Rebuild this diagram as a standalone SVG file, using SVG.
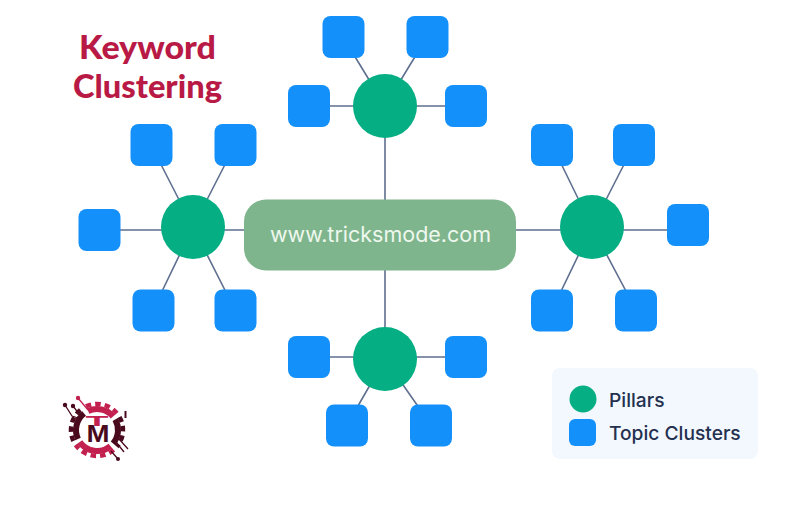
<svg xmlns="http://www.w3.org/2000/svg" width="785" height="518" viewBox="0 0 785 518">
<style>
.c{fill:#05ae83}
.s{fill:#1490fb}
.l{stroke:#5f6f8f;stroke-width:1.6;fill:none}
.title{font-family:"Lato","Liberation Sans",sans-serif;font-weight:900;font-size:31.5px;fill:#b81a45}
.leg{font-family:"Inter","Liberation Sans",sans-serif;font-size:19.200px;font-weight:500;fill:#24304f}
.cen{font-family:"Inter","Noto Sans",sans-serif;font-size:21px;fill:#eef8ee}
.lm{font-family:"Liberation Sans",sans-serif;font-weight:700}
.dk{stroke:#4a0a1e;fill:none}
.cr{stroke:#c2214f;fill:none}
</style>
<defs>
<rect id="sq" width="42" height="42" rx="8" class="s"/>
</defs>
<rect width="785" height="518" fill="#fff"/>
<g id="connectors" class="l">
<path d="M385 106V235M385 235V359M193 230H592"/>
<path d="M343 37L385 106M427 37L385 106M309 106H466"/>
<path d="M151 145L193 227M235 145L193 227M99 230H193M153 310L193 227M235 310L193 227"/>
<path d="M552 145L592 227M634 145L592 227M592 230H688M552 310L592 227M636 310L592 227"/>
<path d="M309 357H466M347 425L385 359M431 425L385 359"/>
</g>
<g id="center"><rect x="244" y="199.500" width="272" height="71" rx="22" fill="#7fb58c"/><text x="270" y="241.500" textLength="221" lengthAdjust="spacingAndGlyphs" class="cen">www.tricksmode.com</text></g>
<g id="pillar-top"><circle cx="385" cy="106" r="32" class="c"/></g>
<g id="pillar-left"><circle cx="193" cy="227" r="32" class="c"/></g>
<g id="pillar-right"><circle cx="592" cy="227" r="32" class="c"/></g>
<g id="pillar-bottom"><circle cx="385" cy="359" r="32" class="c"/></g>
<g id="t1"><use href="#sq" x="322.500" y="16"/></g>
<g id="t2"><use href="#sq" x="406.500" y="16"/></g>
<g id="t3"><use href="#sq" x="288" y="85"/></g>
<g id="t4"><use href="#sq" x="445" y="85"/></g>
<g id="l1"><use href="#sq" x="130.500" y="124"/></g>
<g id="l2"><use href="#sq" x="214.500" y="124"/></g>
<g id="l3"><use href="#sq" x="78.500" y="209"/></g>
<g id="l4"><use href="#sq" x="132.500" y="289.500"/></g>
<g id="l5"><use href="#sq" x="214.500" y="289.500"/></g>
<g id="r1"><use href="#sq" x="531" y="124"/></g>
<g id="r2"><use href="#sq" x="613" y="124"/></g>
<g id="r3"><use href="#sq" x="667" y="204"/></g>
<g id="r4"><use href="#sq" x="531" y="289.500"/></g>
<g id="r5"><use href="#sq" x="615" y="289.500"/></g>
<g id="b1"><use href="#sq" x="288" y="336"/></g>
<g id="b2"><use href="#sq" x="445" y="336"/></g>
<g id="b3"><use href="#sq" x="326" y="404.500"/></g>
<g id="b4"><use href="#sq" x="410" y="404.500"/></g>
<g id="title">
<text x="79" y="58.500" textLength="137" lengthAdjust="spacingAndGlyphs" class="title">Keyword</text>
<text x="73" y="98" textLength="149" lengthAdjust="spacingAndGlyphs" class="title">Clustering</text>
</g>
<g id="legend">
<rect x="552" y="368" width="206" height="91" rx="8" fill="#f3f8fe"/>
<circle cx="583" cy="399" r="13.500" class="c"/>
<rect x="569" y="419" width="27" height="27" rx="6" class="s"/>
<text x="609" y="407" class="leg">Pillars</text>
<text x="609" y="439.500" class="leg">Topic Clusters</text>
</g>
<g id="logo">
<g stroke-width="6">
<path class="cr" d="M88.100 411A21 21 0 0 1 113.100 416.500"/>
<path class="dk" d="M115.200 419.500A21 21 0 0 1 113.100 443.500"/>
<path class="cr" d="M110.500 446.100A21 21 0 0 1 79.800 442"/>
<path class="dk" d="M78 438.900A21 21 0 0 1 84.100 413.500"/>
</g>
<g stroke-width="4.500" stroke-dasharray="5.500 4">
<path class="cr" d="M86 406.400A26 26 0 0 1 116.900 413.300"/>
<path class="dk" d="M119.500 417A26 26 0 0 1 116.900 446.700"/>
<path class="cr" d="M113.700 449.900A26 26 0 0 1 75.700 444.900"/>
<path class="dk" d="M73.400 441A26 26 0 0 1 81 409.500"/>
</g>
<g stroke-width="1.300">
<path class="dk" d="M65 405L72 416L78 418M73 406L79 414L84 416M118 459L111 451M124 452L116 442M128 449L119 439"/>
<path class="cr" d="M78 398L88 410"/>
<path class="dk" d="M125.500 411V418" stroke-width="2"/>
</g>
<circle cx="65" cy="405" r="2.200" fill="#4a0a1e"/><circle cx="73" cy="406" r="2.200" fill="#4a0a1e"/><circle cx="78" cy="398" r="2.200" fill="#c2214f"/><circle cx="118" cy="459" r="2" fill="#4a0a1e"/>
<text x="85.500" y="425.500" textLength="23" lengthAdjust="spacingAndGlyphs" font-size="14.500" class="lm" fill="#c2214f">T</text>
<text x="86.500" y="442" textLength="23" lengthAdjust="spacingAndGlyphs" font-size="24" class="lm" fill="#4a0a1e">M</text>
</g>
</svg>
